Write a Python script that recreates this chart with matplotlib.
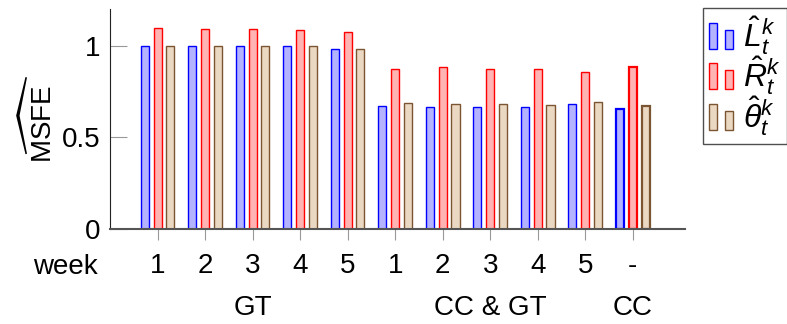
import numpy as np
import matplotlib
matplotlib.use("Agg")
import matplotlib.pyplot as plt
from matplotlib.patches import Rectangle
from matplotlib.legend_handler import HandlerBase

plt.rcParams['font.family'] = ['Liberation Sans', 'DejaVu Sans']
plt.rcParams['mathtext.fontset'] = 'custom'
plt.rcParams['mathtext.rm'] = 'Liberation Sans'
plt.rcParams['mathtext.it'] = 'Liberation Sans:italic'
plt.rcParams['mathtext.sf'] = 'Liberation Sans'

week_labels = ['1', '2', '3', '4', '5', '1', '2', '3', '4', '5', '-']
groups = ['GT', 'CC & GT', 'CC']
group_centers = [2, 7, 10]

L_hat = [1.0, 1.0, 1.0, 1.0, 0.984, 0.674, 0.668, 0.668, 0.665, 0.681, 0.657]
R_hat = [1.097, 1.093, 1.091, 1.089, 1.077, 0.876, 0.885, 0.876, 0.876, 0.860, 0.884]
theta_hat = [1.0, 1.0, 1.0, 1.0, 0.984, 0.689, 0.683, 0.683, 0.679, 0.696, 0.672]

series = [
    (L_hat, '#b3b3ff', '#0000ff', r'$\hat{L}_t^k$'),
    (R_hat, '#ffb3b3', '#ff0000', r'$\hat{R}_t^k$'),
    (theta_hat, '#ead8c2', '#7b5432', r'$\hat{\theta}_t^k$'),
]

FS = 20


class TwoBars(HandlerBase):
    # pgfplots-style ybar legend image: two little bars
    def create_artists(self, legend, orig_handle, xdescent, ydescent,
                       width, height, fontsize, trans):
        fc = orig_handle.get_facecolor()
        ec = orig_handle.get_edgecolor()
        y0 = -ydescent - 0.1 * height
        r1 = Rectangle((-xdescent, y0), width * 0.33, height * 1.15,
                       facecolor=fc, edgecolor=ec, lw=1.0, transform=trans)
        r2 = Rectangle((-xdescent + width * 0.67, y0), width * 0.33, height * 0.85,
                       facecolor=fc, edgecolor=ec, lw=1.0, transform=trans)
        return [r1, r2]


x = np.arange(len(week_labels))
fig = plt.figure(figsize=(7.87, 3.24), dpi=100)
ax = fig.add_axes([0.1398, 0.2932, 0.7306, 0.678])

offsets = [-0.27, 0.0, 0.27]
handles = []
for (vals, fc, ec, lab), off in zip(series, offsets):
    bars = ax.bar(x + off, vals, width=0.17, facecolor=fc, edgecolor=ec, linewidth=1.0, label=lab)
    # last group drawn with heavier outline
    bars[-1].set_linewidth(1.6)
    handles.append(Rectangle((0, 0), 1, 1, facecolor=fc, edgecolor=ec))

ax.set_xlim(-1.0, 11.1)
ax.set_ylim(0, 1.2)
ax.set_yticks([0, 0.5, 1])
ax.set_yticklabels(['0', '0.5', '1'], fontsize=FS)
ax.set_xticks(x)
ax.set_xticklabels(week_labels, fontsize=FS)
ax.tick_params(axis='y', direction='in', length=12, color='#999999', pad=7)
ax.tick_params(axis='x', direction='out', length=8, color='#999999', pad=9)

for s in ['top', 'right']:
    ax.spines[s].set_visible(False)
ax.spines['bottom'].set_color('#555555')
ax.spines['bottom'].set_linewidth(1.5)
ax.spines['left'].set_color('#222222')

ax.set_ylabel(r'$\widehat{\mathsf{MSFE}}$', fontsize=FS, labelpad=3)

ax.text(-1.93, -0.21, 'week', fontsize=FS, ha='center', va='center', clip_on=False)
for g, c in zip(groups, group_centers):
    ax.text(c, -0.43, g, fontsize=FS, ha='center', va='center', clip_on=False)

leg = fig.legend(handles, [s[3] for s in series], loc='upper left',
                 bbox_to_anchor=(703 / 787, 1 - 8 / 324), fontsize=23,
                 handler_map={Rectangle: TwoBars()}, frameon=True, fancybox=False,
                 edgecolor='#222222', handlelength=0.75, handletextpad=0.3,
                 labelspacing=-0.1, borderpad=0.2, borderaxespad=0)
leg.get_frame().set_linewidth(1.0)

fig.savefig('out.png', dpi=100)
